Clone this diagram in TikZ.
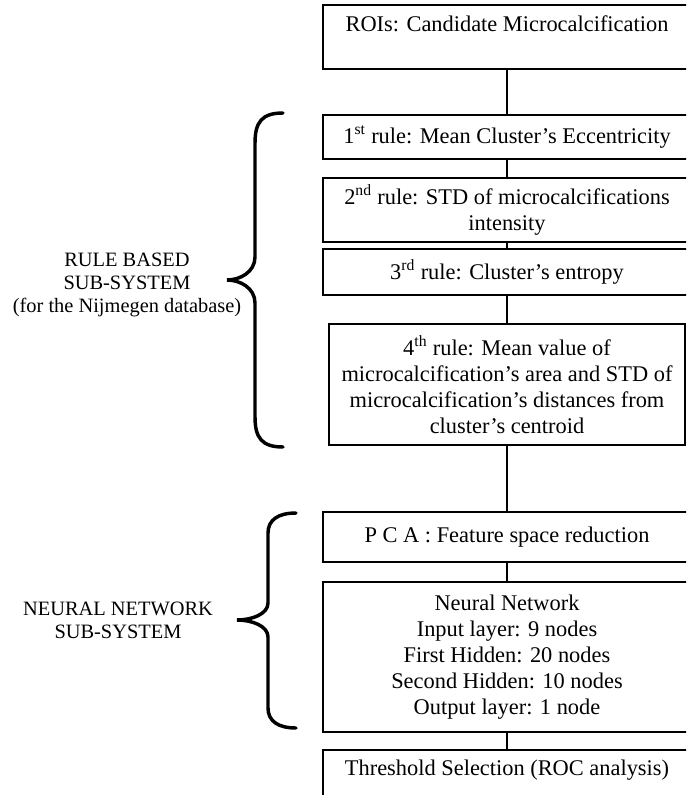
\documentclass[tikz,border=0pt]{standalone}
\usepackage{fontspec}
\setmainfont{Liberation Serif}
\tikzset{
    box/.style={draw,line width=0.9pt,rectangle,inner sep=0pt,outer sep=0pt,align=center,
        minimum width=276pt,font=\fontsize{16.8}{19.5}\selectfont},
    sidelbl/.style={align=center,font=\fontsize{15.3}{17.3}\selectfont},
    curly/.style={line width=2.6pt,line cap=round}
}
\begin{document}
\begin{tikzpicture}[x=0.75pt,y=-0.75pt]
                \useasboundingbox (0,0) rectangle (686,795);
                \clip (0,0) rectangle (686,795);
                \begin{scope}[every node/.style={box}]
                    \node[minimum height=48pt] (roi) at (507,37) {ROIs: Candidate Microcalcification\\ ~};
                    \node[minimum height=33pt] (r1) at (507,137) {1\textsuperscript{st} rule: Mean Cluster’s Eccentricity};
                    \node[minimum height=48pt] (r2) at (507,210) {2\textsuperscript{nd} rule: STD of microcalcifications\\ intensity};
                    \node[minimum height=34.5pt] (r3) at (507,272) {3\textsuperscript{rd} rule: Cluster’s entropy};
                    \node[minimum height=90.75pt,minimum width=267pt] (r4) at (507,384.5) {4\textsuperscript{th} rule: Mean value of\\ microcalcification’s area and STD of\\ microcalcification’s distances from\\ cluster’s centroid};
                    \node[minimum height=37.5pt] (pca) at (507,537) {P C A : Feature space reduction};
                    \node[minimum height=112.5pt] (nn) at (507,657) {Neural Network\\ Input layer: 9 nodes\\ First Hidden: 20 nodes\\ Second Hidden: 10 nodes\\ Output layer: 1 node};
                    \node[minimum height=46.5pt] (thr) at (507,781) {Threshold Selection (ROC analysis)\\ ~};
                \end{scope}

                \begin{scope}[every path/.style={draw,line width=0.9pt}]
                    \path [-] (roi) -- (r1);
                    \path [-] (r1) -- (r2);
                    \path [-] (r2) -- (r3);
                    \path [-] (r3) -- (r4);
                    \path [-] (r4) -- (pca);
                    \path [-] (pca) -- (nn);
                    \path [-] (nn) -- (thr);
                \end{scope}

                \draw[curly] (283,113) .. controls (262,113) and (255,122) .. (255,143) -- (255,257)
                    .. controls (255,272) and (240,280) .. (227,280)
                    .. controls (240,280) and (255,288) .. (255,303) -- (255,417)
                    .. controls (255,438) and (262,447) .. (283,447);
                \draw[curly] (296,513) .. controls (278,513) and (268,520) .. (268,533) -- (268,603)
                    .. controls (268,614) and (252,620) .. (237,620)
                    .. controls (252,620) and (268,626) .. (268,637) -- (268,708)
                    .. controls (268,721) and (278,728) .. (296,728);

                \node[sidelbl] (rulelbl) at (127,285) {RULE BASED\\ SUB-SYSTEM\\ (for the Nijmegen database)};
                \node[sidelbl] (nnlbl) at (118,620) {NEURAL NETWORK\\ SUB-SYSTEM};
            \end{tikzpicture}
\end{document}
